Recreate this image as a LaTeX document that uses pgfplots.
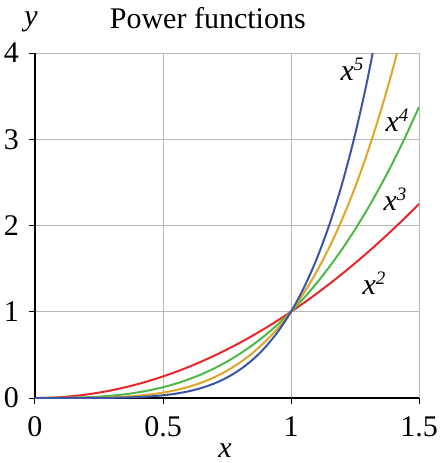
\documentclass[border=0pt]{standalone}
\usepackage{pgfplots}
\pgfplotsset{compat=1.18}
\usepackage{fontspec}
\setmainfont{Liberation Serif}
\definecolor{cred}{HTML}{E8262A}
\definecolor{cgreen}{HTML}{4DB848}
\definecolor{cgold}{HTML}{E0A526}
\definecolor{cblue}{HTML}{3A55A4}
\newcommand{\bigfont}{\fontsize{30}{35}\selectfont}
\newcommand{\pw}[1]{\textit{x}\raisebox{10pt}{\fontsize{19}{19}\selectfont\textit{#1}}}
\begin{document}
\bigfont
\begin{tikzpicture}
\begin{axis}[
  scale only axis,
  width=384pt, height=345pt,
  xmin=0, xmax=1.5, ymin=0, ymax=4,
  axis lines=left,
  axis line style={-, black, line width=1.2pt},
  xtick={0,0.5,1,1.5}, ytick={0,1,2,3,4},
  xticklabels={\textrm{0},\textrm{0.5},\textrm{1},\textrm{1.5}},
  yticklabels={\textrm{0},\textrm{1},\textrm{2},\textrm{3},\textrm{4}},
  tick align=outside,
  major tick length=6pt,
  tick style={black, line width=1pt},
  grid=major,
  grid style={black!28, line width=0.9pt},
  xticklabel style={font=\bigfont, inner sep=0pt, anchor=north, yshift=-12pt},
  yticklabel style={font=\bigfont, inner sep=0pt, anchor=east, xshift=-10pt},
  clip mode=individual,
]
\addplot[cred, line width=2pt, smooth] coordinates {
 (0,0) (0.05,0.0025) (0.1,0.01) (0.15,0.0225) (0.2,0.04) (0.25,0.0625)
 (0.3,0.09) (0.35,0.1225) (0.4,0.16) (0.45,0.2025) (0.5,0.25) (0.55,0.3025)
 (0.6,0.36) (0.65,0.4225) (0.7,0.49) (0.75,0.5625) (0.8,0.64) (0.85,0.7225)
 (0.9,0.81) (0.95,0.9025) (1,1) (1.05,1.1025) (1.1,1.21) (1.15,1.3225)
 (1.2,1.44) (1.25,1.5625) (1.3,1.69) (1.35,1.8225) (1.4,1.96) (1.45,2.1025)
 (1.5,2.25)
};
\addplot[cgreen, line width=2pt, smooth] coordinates {
 (0,0) (0.05,0.000125) (0.1,0.001) (0.15,0.003375) (0.2,0.008) (0.25,0.015625)
 (0.3,0.027) (0.35,0.042875) (0.4,0.064) (0.45,0.091125) (0.5,0.125) (0.55,0.166375)
 (0.6,0.216) (0.65,0.274625) (0.7,0.343) (0.75,0.421875) (0.8,0.512) (0.85,0.614125)
 (0.9,0.729) (0.95,0.857375) (1,1) (1.05,1.157625) (1.1,1.331) (1.15,1.520875)
 (1.2,1.728) (1.25,1.953125) (1.3,2.197) (1.35,2.460375) (1.4,2.744) (1.45,3.048625)
 (1.5,3.375)
};
\addplot[cgold, line width=2pt, smooth] coordinates {
 (0,0) (0.05,0.00000625) (0.1,0.0001) (0.15,0.00050625) (0.2,0.0016) (0.25,0.00390625)
 (0.3,0.0081) (0.35,0.01500625) (0.4,0.0256) (0.45,0.04100625) (0.5,0.0625) (0.55,0.09150625)
 (0.6,0.1296) (0.65,0.17850625) (0.7,0.2401) (0.75,0.31640625) (0.8,0.4096) (0.85,0.52200625)
 (0.9,0.6561) (0.95,0.81450625) (1,1) (1.05,1.21550625) (1.1,1.4641) (1.15,1.74900625)
 (1.2,2.0736) (1.25,2.44140625) (1.3,2.8561) (1.35,3.32150625) (1.4,3.8416) (1.45,4.42050625)
};
\addplot[cblue, line width=2pt, smooth] coordinates {
 (0,0) (0.05,0.0000003) (0.1,0.00001) (0.15,0.0000759) (0.2,0.00032) (0.25,0.0009766)
 (0.3,0.00243) (0.35,0.005252) (0.4,0.01024) (0.45,0.018453) (0.5,0.03125) (0.55,0.050328)
 (0.6,0.07776) (0.65,0.116029) (0.7,0.16807) (0.75,0.237305) (0.8,0.32768) (0.85,0.443705)
 (0.9,0.59049) (0.95,0.773781) (1,1) (1.05,1.276282) (1.1,1.61051) (1.15,2.011357)
 (1.2,2.48832) (1.25,3.051758) (1.3,3.71293) (1.35,4.484033)
};
\node[inner sep=0pt] at (axis cs:1.238,3.81) {\pw{5}};
\node[inner sep=0pt] at (axis cs:1.414,3.22) {\pw{4}};
\node[inner sep=0pt] at (axis cs:1.406,2.30) {\pw{3}};
\node[inner sep=0pt] at (axis cs:1.324,1.33) {\pw{2}};
\node[anchor=base, inner sep=0pt] at (rel axis cs:0.45,1) [yshift=25pt] {Power functions};
\node[anchor=base, inner sep=0pt] at (rel axis cs:-0.01,1) [yshift=28pt] {\textit{y}};
\node[anchor=base, inner sep=0pt] at (rel axis cs:0.495,0) [yshift=-59pt] {\textit{x}};
\coordinate (bl) at (rel axis cs:0,0);
\coordinate (tr) at (rel axis cs:1,1);
\end{axis}
\pgfresetboundingbox
\useasboundingbox ([xshift=-35pt,yshift=-65pt]bl) rectangle ([xshift=20pt,yshift=53pt]tr);
\end{tikzpicture}
\end{document}
